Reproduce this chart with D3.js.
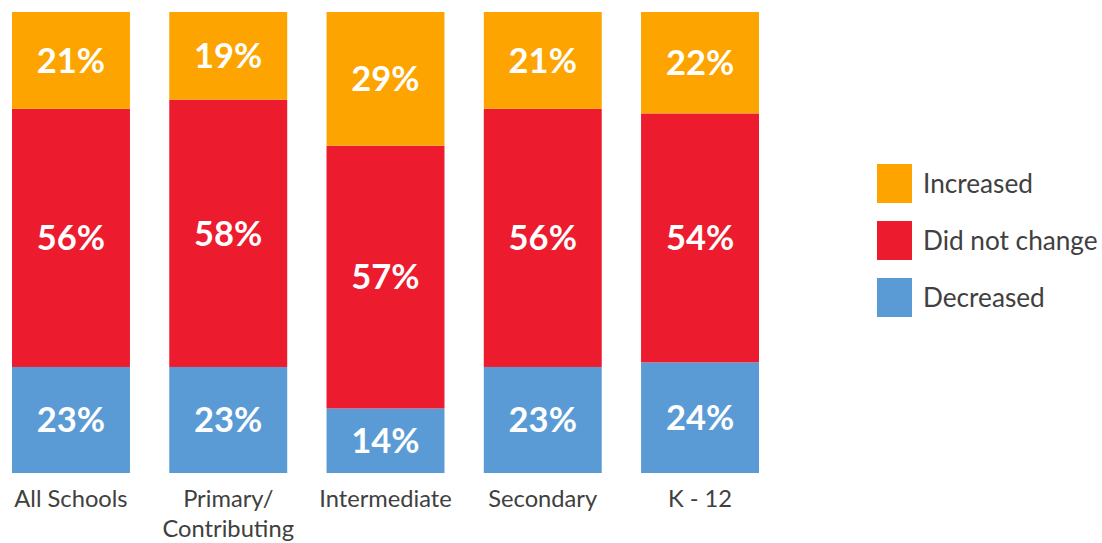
<!DOCTYPE html>
<html>
<head>
<meta charset="utf-8">
<script src="https://cdn.jsdelivr.net/npm/d3@7"></script>
<style>
  html, body { margin: 0; padding: 0; background: #fff; }
  svg { display: block; }
</style>
</head>
<body>
<svg id="chart" width="1102" height="543"></svg>
<script>
// School groups along the x axis (multi-line labels split on "\n")
const categories = ["All Schools", "Primary/\nContributing", "Intermediate", "Secondary", "K - 12"];
// Share of responses per group, in percent
const decreased   = [23, 23, 14, 23, 24];
const noChange    = [56, 58, 57, 56, 54];
const increased   = [21, 19, 29, 21, 22];
const seriesNames = ["Decreased", "Did not change", "Increased"];
const legendOrder = ["Increased", "Did not change", "Decreased"];

const colors = {
  "Increased": "#FDA400",
  "Did not change": "#ED1B2E",
  "Decreased": "#5B9BD5"
};

const rows = categories.map((c, i) => ({
  cat: c,
  "Decreased": decreased[i],
  "Did not change": noChange[i],
  "Increased": increased[i]
}));

const svg = d3.select("#chart");
const fontFam = "Lato, 'Open Sans', sans-serif";

const x = d3.scaleBand()
  .domain(categories)
  .range([12, 759])
  .paddingInner(0.25)
  .paddingOuter(0);

const y = d3.scaleLinear()
  .domain([0, 100])
  .range([473, 12]);

const stack = d3.stack().keys(seriesNames);
const layers = stack(rows);

const g = svg.append("g");

layers.forEach(layer => {
  const key = layer.key;
  const lg = g.append("g").attr("class", "layer");
  lg.selectAll("rect")
    .data(layer)
    .join("rect")
    .attr("x", d => x(d.data.cat))
    .attr("width", x.bandwidth())
    .attr("y", d => y(d[1]))
    .attr("height", d => y(d[0]) - y(d[1]))
    .attr("fill", colors[key]);

  lg.selectAll("text")
    .data(layer)
    .join("text")
    .attr("x", d => x(d.data.cat) + x.bandwidth() / 2)
    .attr("y", d => (y(d[0]) + y(d[1])) / 2)
    .attr("dy", "0.36em")
    .attr("text-anchor", "middle")
    .attr("fill", "#ffffff")
    .attr("font-family", fontFam)
    .attr("font-weight", "bold")
    .attr("font-size", 34.5)
    .text(d => (d[1] - d[0]) + "%");
});

// Category axis labels
const axisG = svg.append("g");
axisG.selectAll("text")
  .data(categories)
  .join("text")
  .attr("x", d => x(d) + x.bandwidth() / 2)
  .attr("y", 507)
  .attr("text-anchor", "middle")
  .attr("fill", "#404040")
  .attr("font-family", fontFam)
  .attr("font-size", 23.7)
  .each(function(d) {
    const lines = d.split("\n");
    const t = d3.select(this);
    lines.forEach((ln, i) => {
      t.append("tspan")
        .attr("x", x(d) + x.bandwidth() / 2)
        .attr("dy", i === 0 ? 0 : 30)
        .text(ln);
    });
  });

// Legend
const legend = svg.append("g");
const legY = d3.scalePoint().domain(legendOrder).range([164, 278]);
legendOrder.forEach(name => {
  legend.append("rect")
    .attr("x", 877)
    .attr("y", legY(name))
    .attr("width", 35)
    .attr("height", 39)
    .attr("fill", colors[name]);
  legend.append("text")
    .attr("x", 923)
    .attr("y", legY(name) + 19.5)
    .attr("dy", "0.36em")
    .attr("fill", "#404040")
    .attr("font-family", fontFam)
    .attr("font-size", 26.2)
    .text(name);
});
</script>
</body>
</html>
